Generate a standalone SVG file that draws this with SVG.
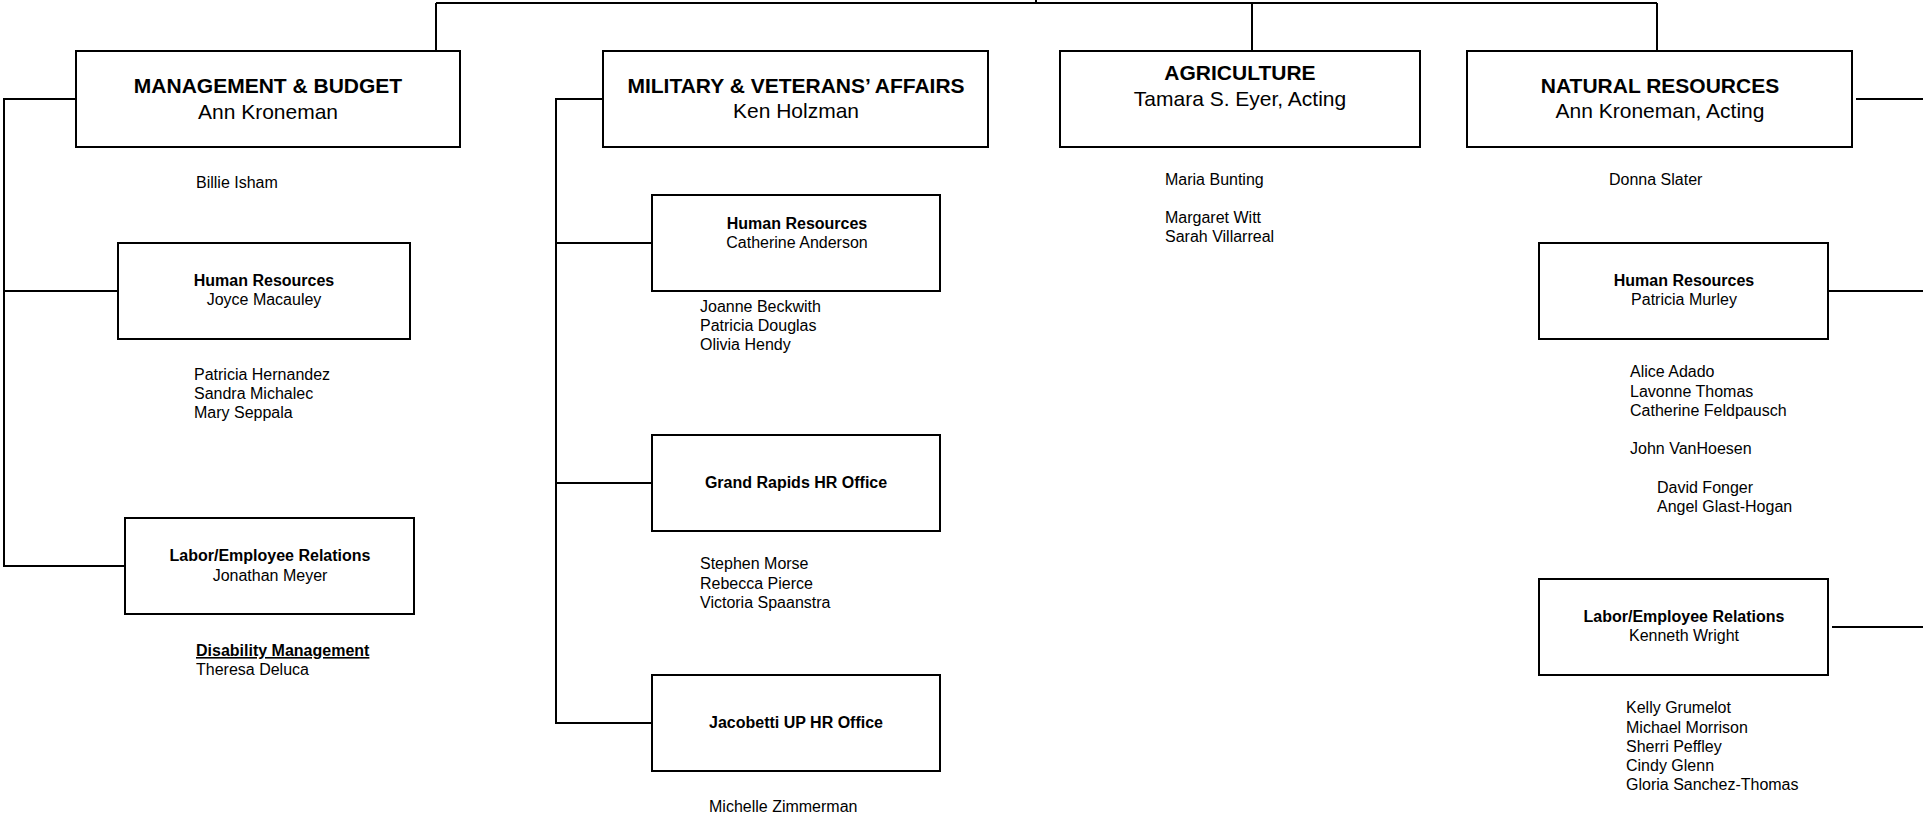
<svg xmlns="http://www.w3.org/2000/svg" width="1923" height="817" viewBox="0 0 1923 817">
<style>
.box{fill:#fff;stroke:#000;stroke-width:2}
.ln{fill:none;stroke:#000;stroke-width:2}
text{font-family:"Liberation Sans",Arial,sans-serif;fill:#000}
.h1{font-size:21px;font-weight:bold;text-anchor:middle}
.n1{font-size:21px;text-anchor:middle}
.h2{font-size:16px;font-weight:bold;text-anchor:middle}
.n2{font-size:16px;text-anchor:middle}
.p{font-size:16px}
.u{font-size:16px;font-weight:bold;text-decoration:underline}
</style>
<rect width="1923" height="817" fill="#fff"/>
<g id="connectors">
<path class="ln" d="M436,3 H1657 M1036,0 V3 M436,3 V51 M1252,3 V51 M1657,3 V51"/>
<path class="ln" d="M76,99 H4 V566 H125 M4,291 H118"/>
<path class="ln" d="M603,99 H556 V723 H652 M556,243 H652 M556,483 H652"/>
<path class="ln" d="M1856,99 H1923 M1828,291 H1923 M1832,627 H1923"/>
</g>
<g id="mgmt">
<rect class="box" x="76" y="51" width="384" height="96"/>
<text class="h1" x="268" y="93">MANAGEMENT &amp; BUDGET</text>
<text class="n1" x="268" y="119">Ann Kroneman</text>
<text class="p" x="196" y="188">Billie Isham</text>
</g>
<g id="mgmt-hr">
<rect class="box" x="118" y="243" width="292" height="96"/>
<text class="h2" x="264" y="286">Human Resources</text>
<text class="n2" x="264" y="305">Joyce Macauley</text>
<text class="p" x="194" y="380">Patricia Hernandez</text>
<text class="p" x="194" y="399">Sandra Michalec</text>
<text class="p" x="194" y="418">Mary Seppala</text>
</g>
<g id="mgmt-labor">
<rect class="box" x="125" y="518" width="289" height="96"/>
<text class="h2" x="270" y="561">Labor/Employee Relations</text>
<text class="n2" x="270" y="581">Jonathan Meyer</text>
<text class="u" x="196" y="656">Disability Management</text>
<text class="p" x="196" y="675">Theresa Deluca</text>
</g>
<g id="military">
<rect class="box" x="603" y="51" width="385" height="96"/>
<text class="h1" x="796" y="93">MILITARY &amp; VETERANS’ AFFAIRS</text>
<text class="n1" x="796" y="118">Ken Holzman</text>
</g>
<g id="mil-hr">
<rect class="box" x="652" y="195" width="288" height="96"/>
<text class="h2" x="797" y="229">Human Resources</text>
<text class="n2" x="797" y="248">Catherine Anderson</text>
<text class="p" x="700" y="312">Joanne Beckwith</text>
<text class="p" x="700" y="331">Patricia Douglas</text>
<text class="p" x="700" y="350">Olivia Hendy</text>
</g>
<g id="mil-gr">
<rect class="box" x="652" y="435" width="288" height="96"/>
<text class="h2" x="796" y="488">Grand Rapids HR Office</text>
<text class="p" x="700" y="569">Stephen Morse</text>
<text class="p" x="700" y="589">Rebecca Pierce</text>
<text class="p" x="700" y="608">Victoria Spaanstra</text>
</g>
<g id="mil-jup">
<rect class="box" x="652" y="675" width="288" height="96"/>
<text class="h2" x="796" y="728">Jacobetti UP HR Office</text>
<text class="p" x="709" y="812">Michelle Zimmerman</text>
</g>
<g id="agriculture">
<rect class="box" x="1060" y="51" width="360" height="96"/>
<text class="h1" x="1240" y="80">AGRICULTURE</text>
<text class="n1" x="1240" y="106">Tamara S. Eyer, Acting</text>
<text class="p" x="1165" y="185">Maria Bunting</text>
<text class="p" x="1165" y="223">Margaret Witt</text>
<text class="p" x="1165" y="242">Sarah Villarreal</text>
</g>
<g id="natural">
<rect class="box" x="1467" y="51" width="385" height="96"/>
<text class="h1" x="1660" y="93">NATURAL RESOURCES</text>
<text class="n1" x="1660" y="118">Ann Kroneman, Acting</text>
<text class="p" x="1609" y="185">Donna Slater</text>
</g>
<g id="nr-hr">
<rect class="box" x="1539" y="243" width="289" height="96"/>
<text class="h2" x="1684" y="286">Human Resources</text>
<text class="n2" x="1684" y="305">Patricia Murley</text>
<text class="p" x="1630" y="377">Alice Adado</text>
<text class="p" x="1630" y="397">Lavonne Thomas</text>
<text class="p" x="1630" y="416">Catherine Feldpausch</text>
<text class="p" x="1630" y="454">John VanHoesen</text>
<text class="p" x="1657" y="493">David Fonger</text>
<text class="p" x="1657" y="512">Angel Glast-Hogan</text>
</g>
<g id="nr-labor">
<rect class="box" x="1539" y="579" width="289" height="96"/>
<text class="h2" x="1684" y="622">Labor/Employee Relations</text>
<text class="n2" x="1684" y="641">Kenneth Wright</text>
<text class="p" x="1626" y="713">Kelly Grumelot</text>
<text class="p" x="1626" y="733">Michael Morrison</text>
<text class="p" x="1626" y="752">Sherri Peffley</text>
<text class="p" x="1626" y="771">Cindy Glenn</text>
<text class="p" x="1626" y="790">Gloria Sanchez-Thomas</text>
</g>
</svg>
